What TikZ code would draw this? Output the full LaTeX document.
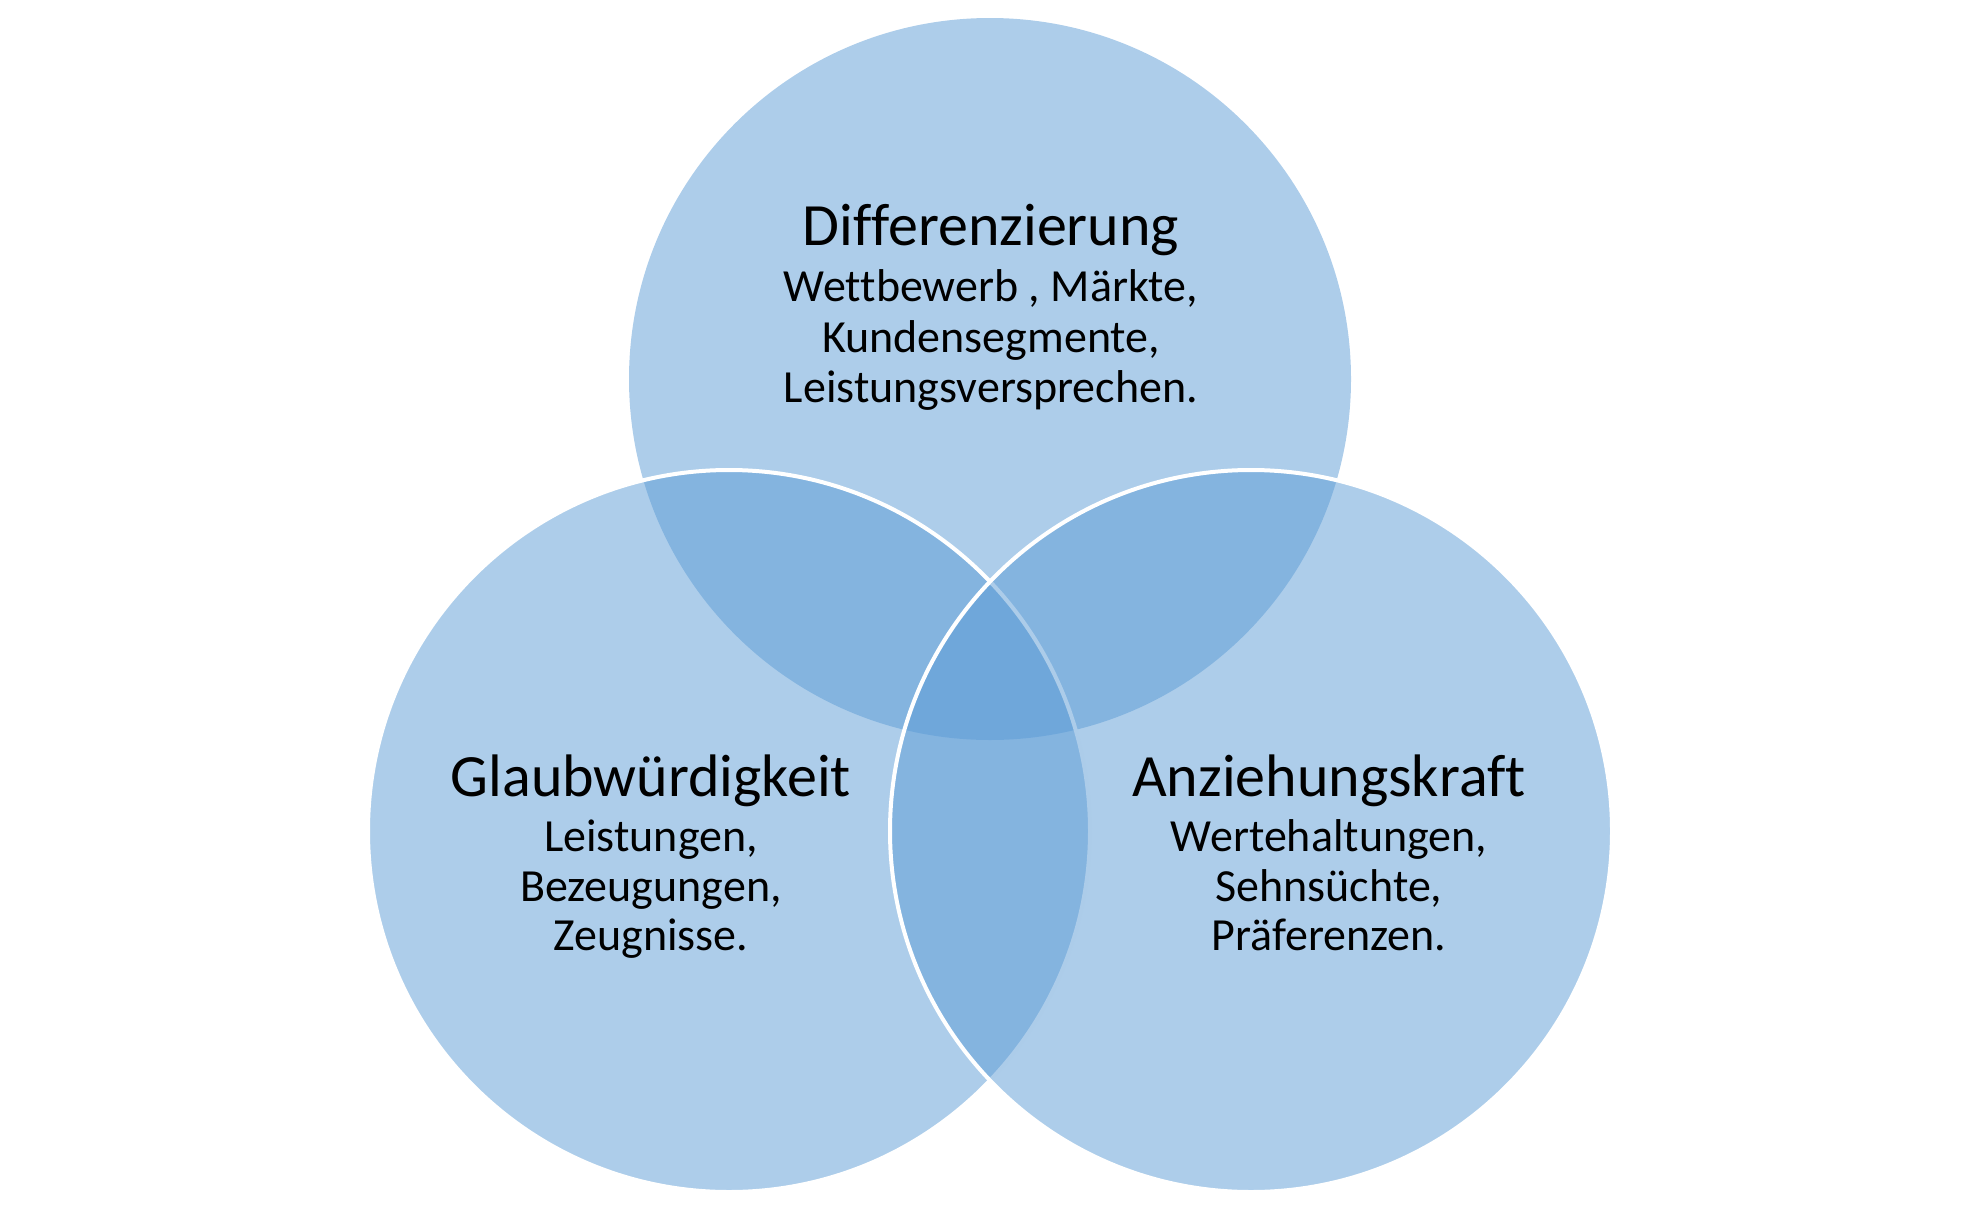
\documentclass[tikz,border=0pt]{standalone}
\usepackage{fontspec}
\setmainfont{Carlito}[Ligatures=CommonOff]
\definecolor{accent}{HTML}{5B9BD5}
\begin{document}
\begin{tikzpicture}[x=0.5pt,y=-0.5pt,
  venn/.style={fill=accent,fill opacity=0.5},
  vennline/.style={venn,draw=white,draw opacity=1,line width=2pt},
  ttl/.style={anchor=base,inner sep=0pt,font=\fontsize{30}{32}\selectfont,text=black},
  bdy/.style={anchor=base,inner sep=0pt,font=\fontsize{23}{25}\selectfont,text=black}]
\useasboundingbox (0,0) rectangle (1980,1210);
\coordinate (cT) at (990,379);
\coordinate (cL) at (729,831);
\coordinate (cR) at (1251,831);
\path[venn] (cT) circle[radius=361];
\path[vennline] (cL) circle[radius=361];
\path[vennline] (cR) circle[radius=361];
% top
\node[ttl] (t0) at (991,245) {Differenzierung};
\node[bdy] (t1) at (991,301) {Wettbewerb , Märkte,};
\node[bdy] (t2) at (991,352) {Kundensegmente,};
\node[bdy] (t3) at (991,402) {Leistungsversprechen.};
% left
\node[ttl] (l0) at (651,796) {Glaubwürdigkeit};
\node[bdy] (l1) at (651,851) {Leistungen,};
\node[bdy] (l2) at (651,901) {Bezeugungen,};
\node[bdy] (l3) at (651,950) {Zeugnisse.};
% right
\node[ttl] (r0) at (1329,796) {Anziehungskraft};
\node[bdy] (r1) at (1329,851) {Wertehaltungen,};
\node[bdy] (r2) at (1329,901) {Sehnsüchte,};
\node[bdy] (r3) at (1329,950) {Präferenzen.};
\end{tikzpicture}
\end{document}
